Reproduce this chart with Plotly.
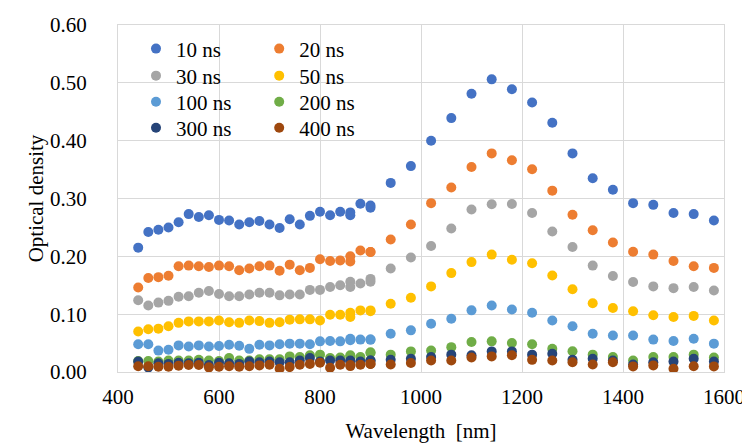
import plotly.graph_objects as go

wl_vis = [440, 460, 480, 500, 520, 540, 560, 580, 600, 620, 640, 660,
          680, 700, 720, 740, 760, 780, 800, 820, 840, 860, 880, 900]
wl_nir = [860, 900, 940, 980, 1020, 1060, 1100, 1140, 1180, 1220,
          1260, 1300, 1340, 1380, 1420, 1460, 1500, 1540, 1580]

labels = ["10 ns", "20 ns", "30 ns", "50 ns", "100 ns", "200 ns", "300 ns", "400 ns"]
colors = ["#4472C4", "#ED7D31", "#A5A5A5", "#FFC000", "#5B9BD5", "#70AD47", "#264478", "#9E480E"]

od_10_vis = [0.215, 0.242, 0.246, 0.250, 0.259, 0.273, 0.268, 0.271, 0.263, 0.262, 0.255, 0.259,
             0.261, 0.255, 0.249, 0.264, 0.255, 0.270, 0.277, 0.271, 0.277, 0.276, 0.291, 0.288]
od_10_nir = [0.271, 0.284, 0.327, 0.356, 0.400, 0.439, 0.481, 0.506, 0.489, 0.466,
             0.431, 0.378, 0.335, 0.315, 0.292, 0.289, 0.275, 0.273, 0.262]

od_20_vis = [0.146, 0.1625, 0.164, 0.1665, 0.183, 0.184, 0.183, 0.1815, 0.184, 0.183, 0.176, 0.179,
             0.183, 0.184, 0.175, 0.1856, 0.176, 0.180, 0.195, 0.192, 0.193, 0.200, 0.210, 0.2075]
od_20_nir = [0.191, 0.2075, 0.229, 0.255, 0.292, 0.319, 0.3545, 0.378, 0.366, 0.3505,
             0.3136, 0.272, 0.245, 0.224, 0.208, 0.203, 0.192, 0.183, 0.180]

od_30_vis = [0.124, 0.115, 0.120, 0.123, 0.130, 0.131, 0.137, 0.140, 0.135, 0.131, 0.131, 0.134,
             0.137, 0.137, 0.1325, 0.134, 0.134, 0.142, 0.142, 0.147, 0.150, 0.156, 0.153, 0.161]
od_30_nir = [0.147, 0.156, 0.179, 0.198, 0.218, 0.248, 0.281, 0.290, 0.2905, 0.275,
             0.243, 0.216, 0.184, 0.166, 0.1555, 0.148, 0.145, 0.147, 0.141]

od_50_vis = [0.070, 0.074, 0.075, 0.079, 0.085, 0.0875, 0.0875, 0.0875, 0.089, 0.086, 0.085, 0.089,
             0.088, 0.085, 0.086, 0.0905, 0.091, 0.091, 0.089, 0.099, 0.099, 0.1025, 0.1065, 0.1065]
od_50_nir = [0.095, 0.105, 0.118, 0.1285, 0.148, 0.171, 0.190, 0.203, 0.194, 0.188,
             0.167, 0.143, 0.119, 0.1106, 0.105, 0.098, 0.095, 0.097, 0.089]

od_100_vis = [0.048, 0.048, 0.037, 0.0385, 0.046, 0.044, 0.046, 0.044, 0.045, 0.047, 0.0455, 0.040,
              0.047, 0.046, 0.048, 0.049, 0.049, 0.048, 0.053, 0.0535, 0.053, 0.0575, 0.056, 0.056]
od_100_nir = [0.055, 0.056, 0.066, 0.072, 0.0835, 0.092, 0.1066, 0.115, 0.108, 0.1025,
              0.089, 0.079, 0.066, 0.063, 0.063, 0.056, 0.0535, 0.0575, 0.049]

od_200_vis = [0.019, 0.019, 0.018, 0.020, 0.020, 0.020, 0.021, 0.020, 0.019, 0.024, 0.020, 0.020,
              0.022, 0.022, 0.022, 0.027, 0.026, 0.029, 0.030, 0.024, 0.025, 0.029, 0.026, 0.034]
od_200_nir = [0.026, 0.033, 0.030, 0.0356, 0.037, 0.043, 0.052, 0.053, 0.050, 0.048,
              0.040, 0.036, 0.030, 0.026, 0.020, 0.026, 0.026, 0.030, 0.025]

od_300_vis = [0.018, 0.008, 0.015, 0.014, 0.016, 0.015, 0.016, 0.012, 0.016, 0.015, 0.014, 0.018,
              0.017, 0.018, 0.017, 0.017, 0.020, 0.024, 0.018, 0.020, 0.020, 0.020, 0.018, 0.020]
od_300_nir = [0.018, 0.020, 0.021, 0.023, 0.026, 0.030, 0.029, 0.0356, 0.0356, 0.030,
              0.0317, 0.021, 0.023, 0.020, 0.013, 0.017, 0.018, 0.023, 0.018]

od_400_vis = [0.010, 0.010, 0.009, 0.009, 0.011, 0.012, 0.012, 0.008, 0.009, 0.010, 0.009, 0.010,
              0.0114, 0.0126, 0.0057, 0.0085, 0.0126, 0.014, 0.016, 0.0074, 0.0126, 0.0102, 0.0126, 0.014]
od_400_nir = [0.012, 0.014, 0.013, 0.0155, 0.020, 0.020, 0.025, 0.027, 0.029, 0.021,
              0.020, 0.017, 0.013, 0.017, 0.0097, 0.0114, 0.0057, 0.010, 0.0097]

vis_series = [od_10_vis, od_20_vis, od_30_vis, od_50_vis, od_100_vis, od_200_vis, od_300_vis, od_400_vis]
nir_series = [od_10_nir, od_20_nir, od_30_nir, od_50_nir, od_100_nir, od_200_nir, od_300_nir, od_400_nir]

x_ticks = [400, 600, 800, 1000, 1200, 1400, 1600]
y_ticks = [0.0, 0.1, 0.2, 0.3, 0.4, 0.5, 0.6]

FONT = "Liberation Serif"


def txt():
    return dict(family=FONT, size=21, color="#000000")


fig = go.Figure()
legend_names = ["legend"] + ["legend%d" % k for k in range(2, 9)]
for i, (lab, col) in enumerate(zip(labels, colors)):
    fig.add_trace(go.Scatter(
        x=wl_vis + wl_nir,
        y=vis_series[i] + nir_series[i],
        mode="markers",
        name=lab,
        marker=dict(color=col, size=10, line=dict(width=0)),
        legend=legend_names[i],
    ))

# legend grid: 2 columns x 4 rows, one single-entry legend per series
col_x = [0.0297, 0.2330]
row_y = [0.931, 0.853, 0.778, 0.703]
legends = {}
for i, name in enumerate(legend_names):
    legends[name] = dict(
        font=txt(), bgcolor="rgba(0,0,0,0)", borderwidth=0, itemwidth=30,
        xanchor="left", yanchor="middle",
        x=col_x[i % 2], y=row_y[i // 2],
    )

grid = "#D9D9D9"
fig.update_layout(
    width=742, height=435,
    margin=dict(l=110, r=26, t=17, b=71, autoexpand=False),
    paper_bgcolor="white",
    plot_bgcolor="white",
    font=txt(),
    showlegend=True,
    xaxis=dict(
        range=[400, 1600],
        tickvals=x_ticks,
        ticktext=[str(v) for v in x_ticks],
        showgrid=True, gridcolor=grid, gridwidth=1,
        showline=True, linecolor=grid, linewidth=1, mirror=True,
        zeroline=False, automargin=False,
        ticks="outside", ticklen=6, tickcolor="rgba(0,0,0,0)",
        tickfont=txt(),
        title=dict(text="Wavelength  [nm]", standoff=16, font=txt()),
    ),
    yaxis=dict(
        range=[0, 0.6],
        tickvals=y_ticks,
        ticktext=["%.2f" % v for v in y_ticks],
        showgrid=True, gridcolor=grid, gridwidth=1,
        showline=True, linecolor=grid, linewidth=1, mirror=True,
        zeroline=False, automargin=False,
        ticks="outside", ticklen=26, tickcolor="rgba(0,0,0,0)",
        tickfont=txt(),
        title=dict(text="Optical density", standoff=0, font=txt()),
    ),
    **legends,
)

fig.write_html("out.html")
